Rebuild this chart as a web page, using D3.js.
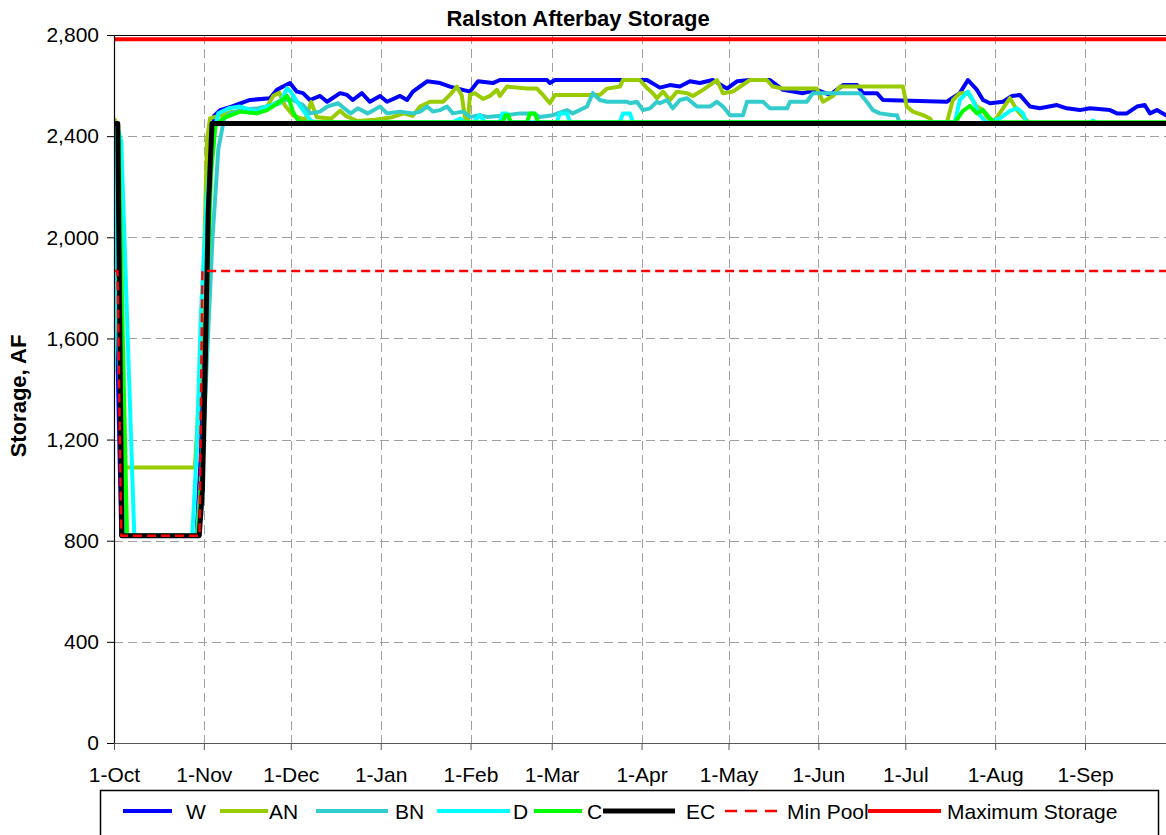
<!DOCTYPE html>
<html>
<head>
<meta charset="utf-8">
<script src="https://cdn.jsdelivr.net/npm/d3@7"></script>
<style>
  html, body { margin: 0; padding: 0; background: #fff; }
  svg { display: block; font-family: "Liberation Sans", Arial, sans-serif; }
</style>
</head>
<body>
<svg id="chart" width="1166" height="835"></svg>
<script>
// Water-year calendar: day 0 = 1-Oct
const monthLabels = ["1-Oct","1-Nov","1-Dec","1-Jan","1-Feb","1-Mar","1-Apr","1-May","1-Jun","1-Jul","1-Aug","1-Sep"];
const monthStartDays = [0,31,61,92,123,151,182,212,243,273,304,335];
const yTicks = [0,400,800,1200,1600,2000,2400,2800];

// Storage traces, [day, AF]
const W = [[0,2190],[2.5,820],[28.5,820],[30,1150],[31.5,1800],[33,2300],[34.5,2480],[36.6,2503],[40.5,2517],[46.9,2543],[53.8,2550],[56.2,2583],[58.3,2596],[60.7,2610],[63.1,2576],[65.2,2570],[67.6,2543],[71.1,2559],[73.5,2536],[78,2570],[80.4,2563],[82.4,2543],[85.5,2570],[88.3,2536],[91.8,2559],[94.2,2536],[98.7,2559],[101.1,2543],[103.1,2576],[108,2617],[112.5,2610],[115.9,2596],[122.8,2576],[125.6,2617],[130.7,2610],[133.1,2622],[149.4,2622],[150.4,2610],[152.1,2622],[183.9,2622],[188.3,2592],[191.8,2602],[195.2,2596],[198.7,2617],[202.1,2610],[206.6,2622],[211.5,2588],[214.9,2617],[219.4,2622],[226.3,2622],[230.8,2583],[237.7,2570],[242.5,2583],[247,2563],[251.5,2602],[256.3,2602],[258.4,2570],[263.2,2570],[265.3,2543],[287.3,2536],[291.8,2570],[294.6,2622],[297.7,2583],[299.8,2543],[302.2,2530],[306.7,2536],[309.8,2559],[312.5,2563],[316,2517],[319.4,2510],[325.3,2523],[328.7,2510],[333.2,2503],[336.7,2510],[343.6,2503],[346,2490],[349.4,2490],[352.9,2517],[355.6,2523],[357.4,2490],[359.8,2503],[362.9,2483],[365,2483]];
const AN = [[0,2470],[1,2450],[2.5,1090],[27.9,1090],[29.5,1400],[31,1900],[32.1,2385],[33.1,2470],[36,2480],[40,2495],[45,2500],[50,2505],[53,2520],[55,2560],[57,2572],[59,2520],[62,2480],[66,2465],[68,2535],[70,2475],[75,2470],[78,2500],[80,2480],[84,2460],[90,2465],[96,2475],[100,2490],[103,2480],[105.6,2517],[109,2536],[113.5,2536],[115.9,2563],[118.3,2596],[120,2560],[121.1,2470],[122.1,2460],[122.8,2563],[124.5,2570],[127.3,2547],[129.7,2559],[132.1,2583],[133.1,2559],[135.6,2596],[142.5,2588],[145.9,2588],[148,2563],[150.4,2530],[152.1,2563],[167.6,2563],[170.1,2588],[174.5,2596],[175.6,2622],[181.4,2622],[183.9,2590],[185.9,2570],[187.3,2550],[189.4,2576],[191.8,2543],[194.2,2576],[197.7,2570],[199.7,2559],[203.2,2583],[208,2622],[210.1,2570],[213.5,2576],[219.4,2622],[225.2,2622],[227.3,2596],[230.8,2588],[242.5,2588],[244.6,2536],[248,2559],[250.4,2596],[272.2,2596],[273.5,2517],[275.6,2497],[279.1,2483],[281.5,2470],[282.5,2452],[287.3,2452],[289.4,2543],[291.8,2570],[294.6,2570],[297.7,2517],[299.8,2503],[301.1,2476],[303.2,2452],[306.3,2503],[309.1,2550],[311.5,2503],[313.6,2476],[316,2452],[365,2452]];
const BN = [[0,2200],[3.5,820],[28.5,820],[30.5,1100],[32,1500],[34,2000],[36,2350],[38,2470],[40,2490],[45,2505],[50,2510],[54,2520],[58,2545],[61.7,2543],[65.2,2523],[67.6,2490],[71.1,2497],[73.5,2517],[77.3,2530],[79.4,2510],[81.7,2490],[84.1,2510],[87.5,2490],[91.8,2517],[94.2,2490],[98.7,2497],[103.1,2490],[105.6,2497],[108,2517],[110,2497],[112.5,2503],[114.9,2517],[116.9,2490],[120.4,2497],[122.8,2476],[126.2,2483],[128.7,2476],[135.6,2483],[140,2490],[144.5,2490],[146.9,2476],[151.4,2483],[156.3,2503],[158.3,2490],[163.2,2517],[165.2,2570],[167.6,2543],[170.1,2536],[177,2536],[178,2530],[180.4,2536],[182.5,2503],[184.9,2510],[187.3,2536],[188.3,2530],[190.8,2543],[192.8,2510],[195.2,2543],[197.7,2550],[201.1,2517],[205.6,2517],[208,2536],[210.1,2517],[212.5,2483],[217,2483],[218.4,2536],[223.9,2536],[226.3,2510],[232.2,2510],[233.2,2536],[239,2536],[241.1,2570],[257.3,2570],[259.7,2536],[261.8,2503],[264.2,2490],[268.7,2483],[270.1,2483],[271.1,2452],[365,2452]];
const D = [[0,1470],[1,2440],[2.5,2380],[7,820],[27,820],[28.5,1150],[30,1700],[32,2150],[34,2400],[36,2490],[39.6,2510],[43.5,2517],[49.3,2497],[52.8,2517],[57.3,2530],[59.7,2590],[61,2575],[63.5,2530],[66,2490],[68,2460],[70,2455],[117,2455],[119.4,2470],[121,2455],[124,2455],[126.2,2483],[128,2455],[133.1,2455],[134,2490],[135.6,2490],[136.6,2455],[152.8,2455],[153.8,2490],[156.3,2490],[157.3,2455],[174.5,2455],[175.6,2490],[178,2490],[179,2455],[290.1,2455],[291.8,2543],[294.6,2576],[296.3,2543],[298.7,2483],[301.1,2452],[305.6,2470],[309.1,2500],[311.5,2510],[313.6,2490],[314.9,2452],[336.7,2452],[337.7,2462],[339.1,2452],[365,2452]];
const C = [[0,2450],[1.5,2440],[4.5,820],[29,820],[30.5,1150],[32,1750],[33.5,2250],[35,2440],[37.6,2470],[43.5,2497],[49.3,2490],[52.8,2503],[57.3,2536],[59.7,2559],[60.7,2536],[61.7,2497],[63.1,2470],[64.2,2455],[134.2,2455],[135,2483],[136,2483],[136.9,2455],[142.5,2455],[143.5,2490],[145.2,2490],[146.3,2455],[290.1,2455],[292.9,2500],[295.3,2520],[297.7,2490],[299.8,2503],[302.2,2470],[303.9,2455],[365,2455]];
const EC = [[0,2450],[1.3,2450],[2.7,820],[29.4,820],[30.5,1000],[31.5,1500],[32.5,2100],[33.8,2450],[365,2450]];
const minPool = [[0,1867],[1.2,1867],[2.5,820],[29.5,820],[30.5,1867],[365,1867]];
const maxStorage = [[0,2783],[365,2783]];

const series = [
  { name: "W",  data: W,  color: "#0000FF", width: 4 },
  { name: "AN", data: AN, color: "#99CC00", width: 4 },
  { name: "BN", data: BN, color: "#33CCCC", width: 4 },
  { name: "D",  data: D,  color: "#00FFFF", width: 4 },
  { name: "C",  data: C,  color: "#00FF00", width: 4 },
  { name: "EC", data: EC, color: "#000000", width: 5 },
  { name: "Min Pool", data: minPool, color: "#FF0000", width: 2.5, dash: "9,5" },
  { name: "Maximum Storage", data: maxStorage, color: "#FF0000", width: 4 }
];

const FONT = "Liberation Sans, Arial, sans-serif";
const svg = d3.select("#chart");
const plot = { left: 114, top: 35, right: 1166, bottom: 743 };

const x = d3.scaleLinear().domain([0, 365]).range([plot.left, 1172]);
const y = d3.scaleLinear().domain([0, 2800]).range([plot.bottom, plot.top]);

svg.append("defs").append("clipPath").attr("id", "plotClip")
  .append("rect")
  .attr("x", plot.left).attr("y", plot.top - 10)
  .attr("width", plot.right - plot.left).attr("height", plot.bottom - plot.top + 10);

// Gridlines
const grid = svg.append("g").attr("class", "grid");
grid.selectAll("line.h").data(yTicks.filter(v => v > 0 && v < 2800)).join("line")
  .attr("x1", plot.left).attr("x2", plot.right)
  .attr("y1", d => Math.round(y(d)) + 0.5).attr("y2", d => Math.round(y(d)) + 0.5)
  .attr("stroke", "#a0a0a0").attr("stroke-width", 1).attr("stroke-dasharray", "9,5");
grid.selectAll("line.v").data(monthStartDays.filter(d => d > 0)).join("line")
  .attr("x1", d => Math.round(x(d)) + 0.5).attr("x2", d => Math.round(x(d)) + 0.5)
  .attr("y1", plot.top).attr("y2", plot.bottom)
  .attr("stroke", "#a0a0a0").attr("stroke-width", 1).attr("stroke-dasharray", "9,5");

// Top border of the plot area
svg.append("line")
  .attr("x1", plot.left).attr("x2", plot.right)
  .attr("y1", plot.top + 0.5).attr("y2", plot.top + 0.5)
  .attr("stroke", "#000").attr("stroke-width", 1);

// Series lines
const line = d3.line().x(d => x(d[0])).y(d => y(d[1]));
const lines = svg.append("g").attr("clip-path", "url(#plotClip)");
series.forEach(s => {
  lines.append("path")
    .datum(s.data)
    .attr("d", line)
    .attr("fill", "none")
    .attr("stroke", s.color)
    .attr("stroke-width", s.width)
    .attr("stroke-linejoin", "round")
    .attr("stroke-dasharray", s.dash || null);
});

// Axes
const yAxis = d3.axisLeft(y).tickValues(yTicks).tickFormat(d3.format(",")).tickSize(7).tickPadding(8);
const gy = svg.append("g").attr("transform", `translate(${plot.left},0)`).call(yAxis);
gy.select(".domain").attr("stroke", "#000").attr("stroke-width", 1.2);
gy.selectAll(".tick line").attr("stroke", "#000");
gy.selectAll(".tick text").attr("font-size", 21).attr("fill", "#000").attr("font-family", FONT);

const xAxis = d3.axisBottom(x).tickValues(monthStartDays)
  .tickFormat((d, i) => monthLabels[i]).tickSize(7).tickSizeOuter(0).tickPadding(17);
const gx = svg.append("g").attr("transform", `translate(0,${plot.bottom})`).call(xAxis);
gx.select(".domain").attr("stroke", "#555").attr("stroke-width", 1.2);
gx.selectAll(".tick line").attr("stroke", "#555");
gx.selectAll(".tick text").attr("font-size", 21).attr("fill", "#000").attr("font-family", FONT);

// Title and axis title
svg.append("text")
  .attr("x", 578).attr("y", 26)
  .attr("text-anchor", "middle")
  .attr("font-size", 22).attr("font-weight", "bold")
  .text("Ralston Afterbay Storage");

svg.append("text")
  .attr("transform", `translate(26,396) rotate(-90)`)
  .attr("text-anchor", "middle")
  .attr("font-size", 22).attr("font-weight", "bold")
  .text("Storage, AF");

// Legend
const legend = svg.append("g");
legend.append("rect")
  .attr("x", 100.5).attr("y", 790.5).attr("width", 1058).attr("height", 70)
  .attr("fill", "#fff").attr("stroke", "#000").attr("stroke-width", 1.5);

const legendLayout = [
  [123, 172, 186], [220, 268, 269], [316, 388, 395], [437, 510, 513],
  [534, 582, 587], [603, 675, 686], [725, 785, 787], [868, 941, 947]
];
series.forEach((s, i) => {
  const [x1, x2, tx] = legendLayout[i];
  legend.append("line")
    .attr("x1", x1).attr("x2", x2).attr("y1", 811).attr("y2", 811)
    .attr("stroke", s.color).attr("stroke-width", s.width)
    .attr("stroke-dasharray", s.dash ? "12,8" : null);
  legend.append("text")
    .attr("x", tx).attr("y", 818.5)
    .attr("font-size", 21)
    .text(s.name);
});
</script>
</body>
</html>
